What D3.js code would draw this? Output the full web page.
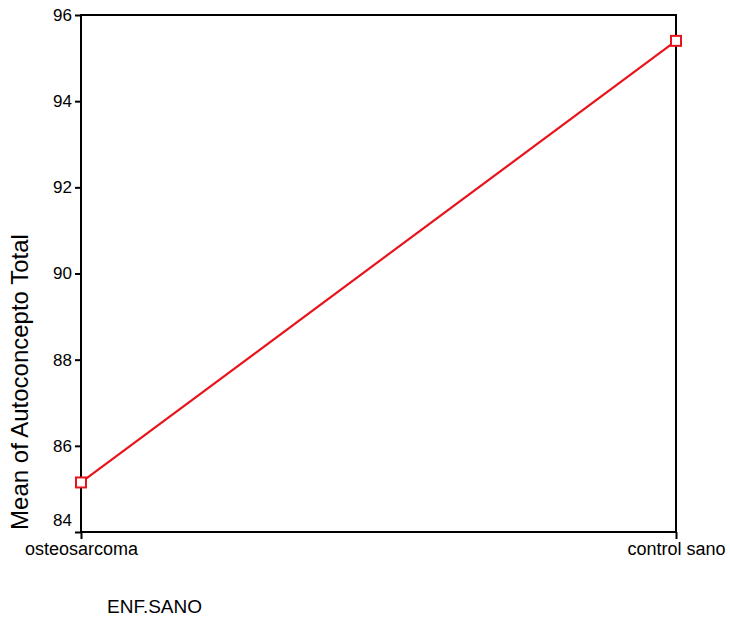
<!DOCTYPE html>
<html>
<head>
<meta charset="utf-8">
<script src="https://cdn.jsdelivr.net/npm/d3@7"></script>
<style>
body { margin: 0; background: #fff; }
</style>
</head>
<body>
<div id="chart"></div>
<script>
const categories = ['osteosarcoma', 'control sano'];
const means = [85.15, 95.4];
const yTicks = [84, 86, 88, 90, 92, 94, 96];

const width = 730;
const height = 623;
const margin = {top: 15, right: 54, bottom: 91, left: 81};
const innerWidth = width - margin.left - margin.right;
const innerHeight = height - margin.top - margin.bottom;
const fontFamily = 'Arial, "Liberation Sans", Helvetica, sans-serif';
const red = '#e8141b';

const svg = d3.select('#chart').append('svg')
    .attr('width', width)
    .attr('height', height);

const g = svg.append('g')
    .attr('transform', `translate(${margin.left},${margin.top})`);

const xScale = d3.scalePoint()
    .domain(categories)
    .range([0, innerWidth]);

const yScale = d3.scaleLinear()
    .domain([84, 96])
    .range([innerHeight, 0]);

// frame
g.append('rect')
    .attr('x', 0).attr('y', 0)
    .attr('width', innerWidth).attr('height', innerHeight)
    .attr('fill', 'none')
    .attr('stroke', '#000')
    .attr('stroke-width', 2);

const yAxis = g.append('g')
    .call(d3.axisLeft(yScale).tickValues(yTicks).tickSize(6).tickPadding(3).tickFormat(d3.format('d')))
    .call(a => a.select('.domain').remove())
    .call(a => a.selectAll('.tick line').attr('stroke-width', 2))
    .call(a => a.selectAll('.tick text')
        .style('font-family', fontFamily)
        .style('font-size', '17px')
        .attr('fill', '#000'))
    .call(a => a.selectAll('.tick').filter(d => d === 84).select('text').attr('dy', '-0.4em'));

const xAxis = g.append('g')
    .attr('transform', `translate(0,${innerHeight})`)
    .call(d3.axisBottom(xScale).tickSize(7).tickPadding(3))
    .call(a => a.select('.domain').remove())
    .call(a => a.selectAll('.tick line').attr('stroke-width', 2))
    .call(a => a.selectAll('.tick text')
        .style('font-family', fontFamily)
        .style('font-size', '18px')
        .attr('fill', '#000'));

const line = d3.line()
    .x((d, i) => xScale(categories[i]))
    .y(d => yScale(d));

g.append('path')
    .datum(means)
    .attr('d', line)
    .attr('fill', 'none')
    .attr('stroke', red)
    .attr('stroke-width', 2.2);

g.selectAll('.marker')
    .data(means)
    .join('rect')
    .attr('class', 'marker')
    .attr('x', (d, i) => xScale(categories[i]) - 5)
    .attr('y', d => yScale(d) - 5)
    .attr('width', 10)
    .attr('height', 10)
    .attr('fill', '#fff')
    .attr('stroke', red)
    .attr('stroke-width', 2);

svg.append('text')
    .attr('transform', 'translate(28,382) rotate(-90)')
    .attr('text-anchor', 'middle')
    .style('font-family', fontFamily)
    .style('font-size', '24px')
    .attr('fill', '#000')
    .text('Mean of Autoconcepto Total');

svg.append('text')
    .attr('x', 107)
    .attr('y', 613)
    .style('font-family', fontFamily)
    .style('font-size', '19px')
    .attr('fill', '#000')
    .text('ENF.SANO');
</script>
</body>
</html>
